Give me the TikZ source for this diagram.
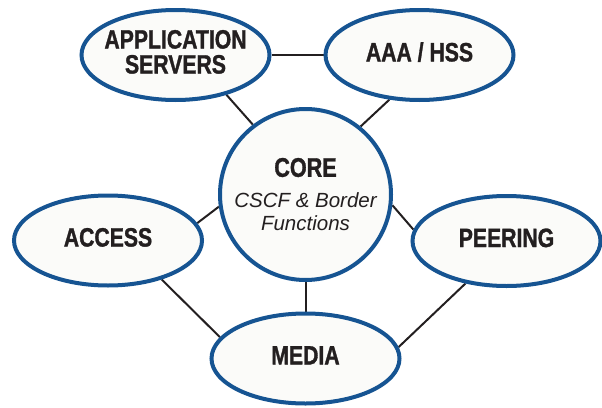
\documentclass[tikz,border=0pt]{standalone}
\usepackage{fontspec}
\setmainfont{Liberation Sans}
\newfontfamily\condfont[FakeStretch=0.8,BoldFeatures={FakeBold=1.2}]{Liberation Sans}
\usetikzlibrary{shapes.geometric,backgrounds}
\definecolor{ringblue}{RGB}{22,84,146}
\definecolor{fillwhite}{RGB}{251,251,249}
\definecolor{inkdark}{RGB}{35,31,32}
\newcommand{\ovaltext}[1]{\raisebox{-2pt}{\makebox[0pt][c]{\begin{tabular}{@{}c@{}}#1\end{tabular}}}}
\tikzset{
  ovalnode/.style={ellipse, draw=ringblue, line width=4pt, fill=fillwhite,
    minimum width=188pt, minimum height=90pt, inner sep=0pt,
    text=inkdark, font=\condfont\bfseries\fontsize{26.5}{21.5}\selectfont},
  corenode/.style={circle, draw=ringblue, line width=4pt, fill=fillwhite,
    minimum size=171pt, inner sep=0pt, align=center, text=inkdark,
    font=\itshape\fontsize{20.5}{23}\selectfont},
  link/.style={draw=inkdark, line width=2pt}
}
\begin{document}
\begin{tikzpicture}[x=1pt,y=-1pt]
\useasboundingbox (0,0) rectangle (602,407);
\node[ovalnode] (app) at (175.5,55) {\ovaltext{APPLICATION\\SERVERS}};
\node[ovalnode] (aaa) at (419.5,55) {\ovaltext{AAA / HSS}};
\node[corenode] (core) at (305.5,194.5) {%
  {\condfont\bfseries\upshape\fontsize{27}{27}\selectfont CORE}\\[8pt]
  CSCF \& Border\\
  Functions};
\node[ovalnode] (access) at (108,240.5) {\ovaltext{ACCESS}};
\node[ovalnode] (peering) at (506.5,241) {\ovaltext{PEERING}};
\node[ovalnode] (media) at (305.5,358.5) {\ovaltext{MEDIA}};
\begin{pgfonlayer}{background}
\draw[link] (app.0) -- (aaa.180);
\draw[link] (app.-38) -- (core.127);
\draw[link] (aaa.-124) -- (core.51);
\draw[link] (core.188) -- (access.11);
\draw[link] (core.-7) -- (peering.173);
\draw[link] (core.-90) -- (media.90);
\draw[link] (access.-36) -- (media.166);
\draw[link] (peering.-134) -- (media.7);
\end{pgfonlayer}
\end{tikzpicture}
\end{document}
